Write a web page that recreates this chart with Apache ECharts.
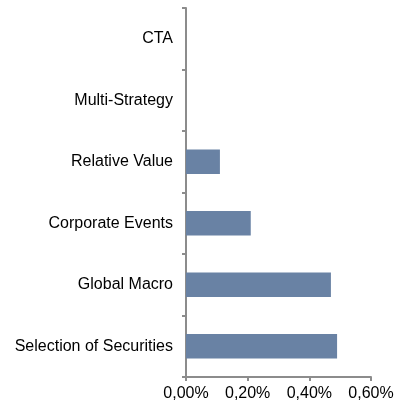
<!DOCTYPE html>
<html>
<head>
<meta charset="utf-8">
<script src="https://cdn.jsdelivr.net/npm/echarts@6/dist/echarts.min.js"></script>
<style>
  html, body { margin: 0; padding: 0; background: #fff; }
</style>
</head>
<body>
<div id="myChart" style="width: 411px; height: 407px;"></div>
<script>
// categories from bottom to top
var categories = ["Selection of Securities", "Global Macro", "Corporate Events", "Relative Value", "Multi-Strategy", "CTA"];
var values = [0.49, 0.47, 0.21, 0.11, 0, 0];
var xTicks = [0, 0.2, 0.4, 0.6];

var myChart = echarts.init(document.getElementById("myChart"));

myChart.setOption({
  animation: false,
  grid: {
    left: 186,
    right: 40,
    top: 8,
    bottom: 30,
    containLabel: false
  },
  xAxis: {
    type: "value",
    min: xTicks[0],
    max: xTicks[xTicks.length - 1],
    interval: 0.2,
    splitLine: { show: false },
    axisLine: { show: true, lineStyle: { color: "#8c8c8c", width: 2 } },
    axisTick: { show: true, length: 4, lineStyle: { color: "#8c8c8c", width: 2 } },
    axisLabel: {
      color: "#000",
      fontFamily: "Liberation Sans",
      fontSize: 16,
      margin: 9,
      formatter: function (v) {
        return v.toFixed(2).replace(".", ",") + "%";
      }
    }
  },
  yAxis: {
    type: "category",
    data: categories,
    axisLine: { show: true, lineStyle: { color: "#8c8c8c", width: 2 } },
    axisTick: { show: true, length: 4, lineStyle: { color: "#8c8c8c", width: 2 } },
    axisLabel: {
      color: "#000",
      fontFamily: "Liberation Sans",
      fontSize: 16,
      margin: 13,
      padding: [3, 0, 0, 0]
    }
  },
  series: [{
    type: "bar",
    data: values,
    barWidth: "40%",
    itemStyle: { color: "#6982a4" }
  }]
});
</script>
</body>
</html>
